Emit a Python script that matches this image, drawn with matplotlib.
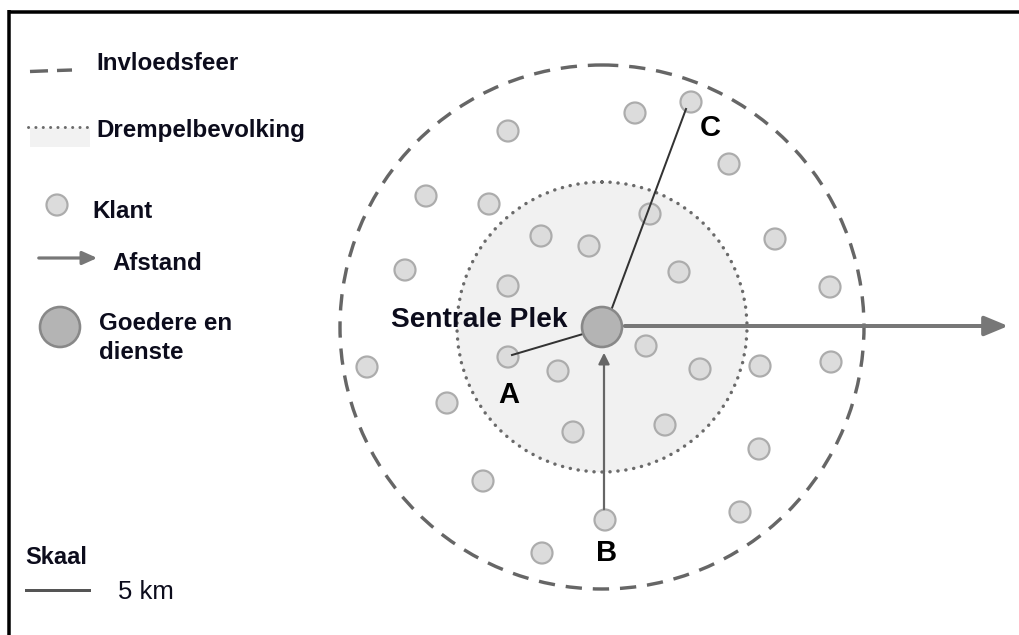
import matplotlib
matplotlib.use("Agg")
import matplotlib.pyplot as plt
from matplotlib.patches import Circle, Rectangle, FancyArrowPatch

# ---- data (pixel-space positions) ----
center = (602, 327)
influence_radius = 262
threshold_radius = 145
customer_x = [508, 426, 489, 541, 589, 405, 508,
              635, 691, 729, 650, 775, 679, 830,
              508, 367, 558, 447, 573, 483, 605, 542,
              646, 700, 760, 831, 665, 759, 740]
customer_y = [131, 196, 204, 236, 246, 270, 286,
              113, 102, 164, 214, 239, 272, 287,
              357, 367, 371, 403, 432, 481, 520, 553,
              346, 369, 366, 362, 425, 449, 512]
legend_labels = ["Invloedsfeer", "Drempelbevolking", "Klant", "Afstand", "Goedere en\ndienste"]
point_labels = ["A", "B", "C"]
scale_label = "Skaal"
scale_value = "5 km"
center_label = "Sentrale Plek"

PX = 0.72  # px -> pt at dpi 100
TXT = "#0c0c1c"
FONT = "Liberation Sans"

fig = plt.figure(figsize=(10.19, 6.35), dpi=100)
ax = fig.add_axes([0, 0, 1, 1])
ax.set_xlim(0, 1019)
ax.set_ylim(635, 0)
ax.set_aspect("equal")
ax.axis("off")

cx, cy = center
# threshold (inner) area
ax.add_patch(Circle(center, threshold_radius, facecolor="#f1f1f1", edgecolor="none", zorder=1))
ax.add_patch(Circle(center, threshold_radius, facecolor="none", edgecolor="#6a6a6a",
                    lw=3.4 * PX, linestyle=(0, (0.05, 2.3)), capstyle="round", zorder=1))
# influence sphere
ax.add_patch(Circle(center, influence_radius, facecolor="none", edgecolor="#666666",
                    lw=3.4 * PX, linestyle=(0, (4.8, 3.2)), zorder=1))

# customers
for x, y in zip(customer_x, customer_y):
    ax.add_patch(Circle((x, y), 10.5, facecolor="#dcdcdc", edgecolor="#acacac",
                        lw=2.2 * PX, zorder=3))

# distance arrow (horizontal)
ax.add_patch(FancyArrowPatch((cx + 20, cy - 1), (1011, cy - 1),
                             arrowstyle="-|>,head_length=6.5,head_width=2.7",
                             mutation_scale=2.2, color="#777777", lw=4 * PX, zorder=2))
# line to C
ax.plot([686, 612], [109, 308], color="#333333", lw=2 * PX, zorder=4)
# line to A
ax.plot([512, 583], [355, 334], color="#333333", lw=2 * PX, zorder=4)
# line from B with arrow tip near centre
ax.add_patch(FancyArrowPatch((604, 512), (604, 350), arrowstyle="-|>,head_length=3,head_width=1.5",
                             mutation_scale=2.2, color="#666666", lw=2.2 * PX, zorder=4))

# central place
ax.add_patch(Circle(center, 20, facecolor="#b4b4b4", edgecolor="#888888", lw=2.6 * PX, zorder=5))

ax.text(cx - 34, 320, center_label, fontsize=20.2, fontweight="bold", family=FONT,
        color=TXT, ha="right", va="center", zorder=6)
ax.text(509, 395, point_labels[0], fontsize=21, fontweight="bold", family=FONT,
        color="black", ha="center", va="center", zorder=6)
ax.text(607, 553, point_labels[1], fontsize=21, fontweight="bold", family=FONT,
        color="black", ha="center", va="center", zorder=6)
ax.text(710, 128, point_labels[2], fontsize=21, fontweight="bold", family=FONT,
        color="black", ha="center", va="center", zorder=6)

# ---- legend ----
lfs = 17.4
ax.plot([30, 48], [71.5, 70.8], color="#666666", lw=3.4 * PX, solid_capstyle="butt")
ax.plot([57, 72], [70.5, 70], color="#666666", lw=3.4 * PX, solid_capstyle="butt")
ax.text(96, 64, legend_labels[0], fontsize=lfs, fontweight="bold", family=FONT, color=TXT, va="center")

ax.add_patch(Rectangle((30, 128), 60, 19, facecolor="#f2f2f2", edgecolor="none"))
ax.plot([28, 90], [127, 127], color="#6a6a6a", lw=3 * PX, linestyle=(0, (0.05, 2.4)),
        dash_capstyle="round")
ax.text(96, 131, legend_labels[1], fontsize=lfs, fontweight="bold", family=FONT, color=TXT, va="center")

ax.add_patch(Circle((57, 205), 10.5, facecolor="#dcdcdc", edgecolor="#acacac", lw=2.2 * PX))
ax.text(92, 211, legend_labels[2], fontsize=lfs, fontweight="bold", family=FONT, color=TXT, va="center")

ax.add_patch(FancyArrowPatch((36, 258), (100, 258), arrowstyle="-|>,head_length=4,head_width=1.8",
                             mutation_scale=2.2, color="#777777", lw=3.2 * PX))
ax.text(112, 263, legend_labels[3], fontsize=lfs, fontweight="bold", family=FONT, color=TXT, va="center")

ax.add_patch(Circle((60, 327), 20, facecolor="#b4b4b4", edgecolor="#888888", lw=2.6 * PX))
ax.text(99, 338, legend_labels[4], fontsize=lfs, fontweight="bold", family=FONT, color=TXT,
        va="center", linespacing=1.3)

# scale
ax.text(25, 558, scale_label, fontsize=17, fontweight="bold", family=FONT, color=TXT, va="center")
ax.plot([26, 89], [590, 590], color="#555555", lw=3 * PX)
ax.text(118, 592, scale_value, fontsize=18.5, family=FONT, color=TXT, va="center")

# frame (top and left only, as in the reference)
ax.plot([8, 1019], [11.5, 11.5], color="black", lw=3.5 * PX, solid_capstyle="butt")
ax.plot([9.5, 9.5], [10, 635], color="black", lw=3.5 * PX, solid_capstyle="butt")

fig.savefig("out.png", dpi=100, facecolor="white")
